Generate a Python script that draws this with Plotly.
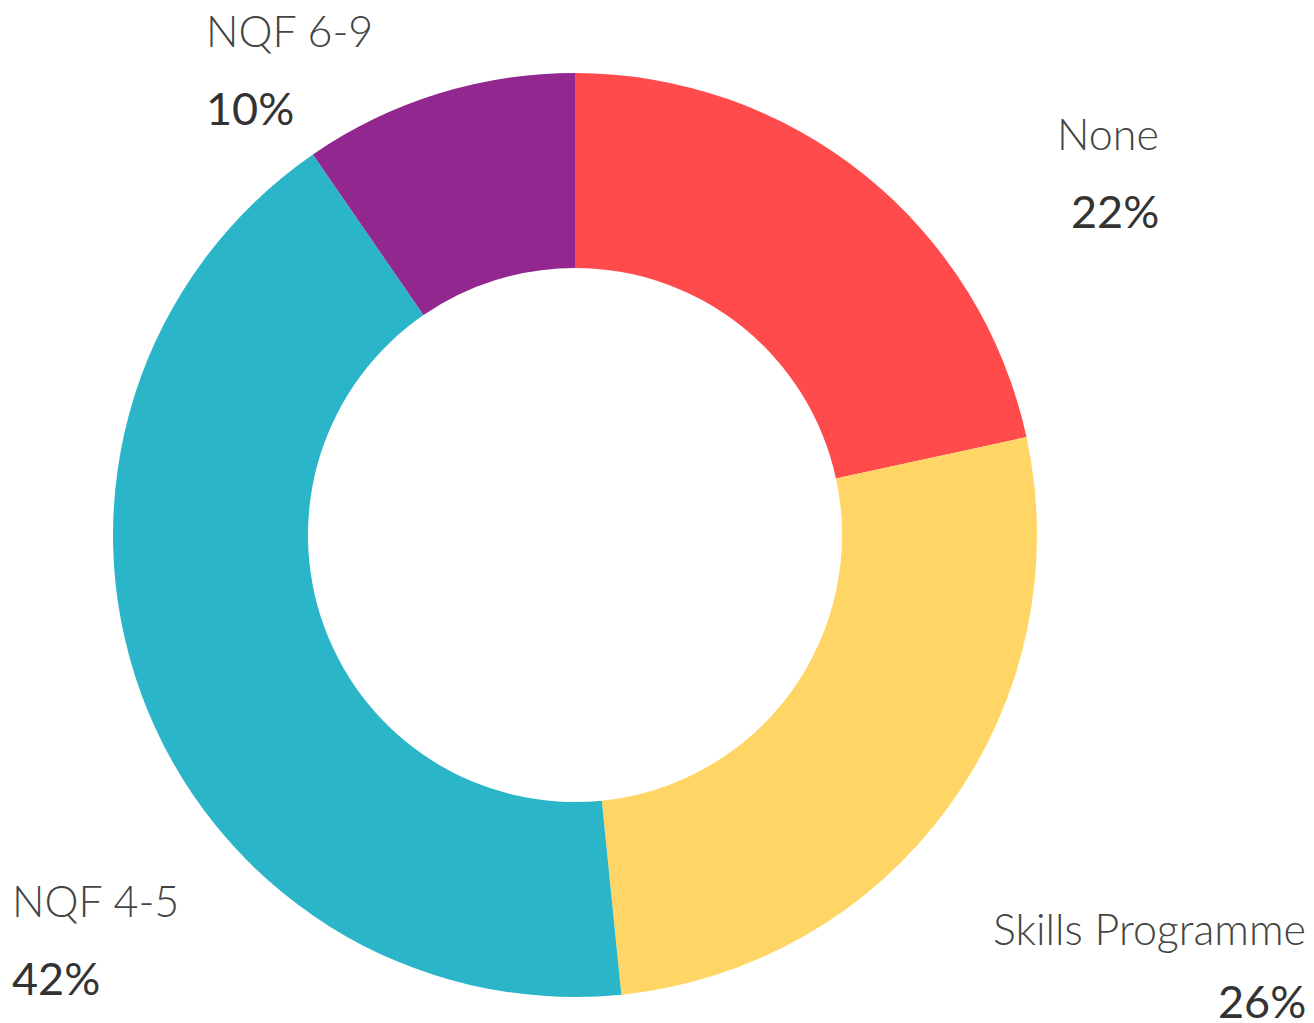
import plotly.graph_objects as go

W, H = 1314, 1023

categories = ["None", "Skills Programme", "NQF 4-5", "NQF 6-9"]
shares = [21.6, 26.8, 42.0, 9.6]
pct_labels = ["22%", "26%", "42%", "10%"]
colors = ["#ff4b4b", "#ffd666", "#2bb5c8", "#92278f"]

# label anchors in pixels: (x, y_name, y_pct, xanchor)
label_pos = {
    "None": (1161, 133, 211, "right"),
    "Skills Programme": (1308, 928, 1001, "right"),
    "NQF 4-5": (10, 900, 978, "left"),
    "NQF 6-9": (204, 31, 108, "left"),
}

cx, cy, r = 575, 535, 462

fig = go.Figure(go.Pie(
    labels=categories, values=shares, hole=0.578, sort=False,
    direction="clockwise", rotation=0, textinfo="none", hoverinfo="label+percent",
    marker=dict(colors=colors, line=dict(width=0)),
    domain=dict(x=[(cx - r) / W, (cx + r) / W], y=[1 - (cy + r) / H, 1 - (cy - r) / H]),
    showlegend=False,
))

for name, pct in zip(categories, pct_labels):
    x, yn, yp, anc = label_pos[name]
    fig.add_annotation(x=x / W, y=1 - yn / H, xref="paper", yref="paper", text=name, showarrow=False,
                       xanchor=anc, yanchor="middle",
                       font=dict(family="Lato", size=43, color="#444444", weight=300))
    fig.add_annotation(x=x / W, y=1 - yp / H, xref="paper", yref="paper", text=pct, showarrow=False,
                       xanchor=anc, yanchor="middle",
                       font=dict(family="Lato", size=45, color="#333333", weight=400))

fig.update_layout(width=W, height=H, margin=dict(l=0, r=0, t=0, b=0),
                  paper_bgcolor="white", plot_bgcolor="white")
fig.write_html("out.html", config={"displayModeBar": False},
               post_script="document.body.style.margin='0';")
